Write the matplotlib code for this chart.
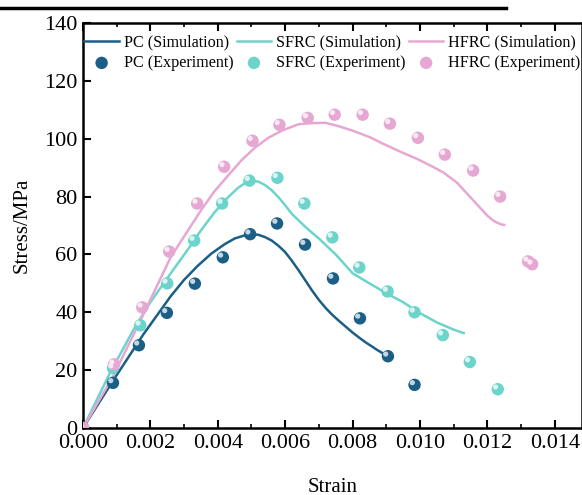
import numpy as np
import matplotlib
matplotlib.use("Agg")
import matplotlib.pyplot as plt
from matplotlib.ticker import MultipleLocator
from matplotlib.transforms import offset_copy
from matplotlib.lines import Line2D

plt.rcParams["font.family"] = ["Liberation Serif", "DejaVu Serif"]
plt.rcParams["mathtext.fontset"] = "stix"

# experiment points
pc_exp_x = [0, 0.00089, 0.00166, 0.00249, 0.00332, 0.00415, 0.00496, 0.00576,
            0.00659, 0.00742, 0.00822, 0.00905, 0.00984]
pc_exp_y = [0, 15.6, 28.6, 39.8, 49.9, 59.0, 67.0, 70.7, 63.4, 51.7, 37.9, 24.8, 14.9]

sfrc_exp_x = [0, 0.00089, 0.0017, 0.0025, 0.0033, 0.00413, 0.00494, 0.00577,
              0.00657, 0.0074, 0.0082, 0.00904, 0.00984, 0.01068, 0.01148, 0.01231]
sfrc_exp_y = [0, 20.7, 35.5, 50.0, 64.8, 77.6, 85.5, 86.5, 77.6, 65.9, 55.5, 47.2,
              40.0, 32.1, 22.8, 13.4]

hfrc_exp_x = [0, 0.00092, 0.00176, 0.00256, 0.00339, 0.00419, 0.00503, 0.00583,
              0.00667, 0.00747, 0.0083, 0.00911, 0.00994, 0.01074, 0.01158,
              0.01238, 0.01321, 0.01333]
hfrc_exp_y = [0, 22.0, 41.7, 61.0, 77.6, 90.3, 99.3, 104.8, 107.2, 108.3, 108.3,
              105.2, 100.3, 94.5, 89.0, 80.0, 57.6, 56.6]

# simulation curves
pc_sim_x = [0, 0.0009, 0.0018, 0.0026, 0.0030, 0.0034, 0.0038, 0.0042, 0.0045,
            0.0048, 0.0050, 0.0052, 0.0054, 0.0056, 0.0058, 0.0060, 0.0062,
            0.0064, 0.0066, 0.0068, 0.0070, 0.0072, 0.0074, 0.0076, 0.0078,
            0.0080, 0.0082, 0.0084, 0.0086, 0.0087, 0.0089]
pc_sim_y = [0, 16.5, 32.5, 45.5, 51.2, 56.0, 60.2, 63.5, 65.5, 66.6, 67.0, 66.8,
            66.0, 64.8, 63.0, 60.8, 57.8, 54.5, 51.0, 47.5, 44.3, 41.5, 39.1,
            37.0, 35.0, 33.0, 31.2, 29.5, 28.0, 27.2, 25.8]

sfrc_sim_x = [0, 0.0008, 0.0015, 0.0020, 0.0026, 0.0031, 0.0035, 0.0039, 0.0043,
              0.0046, 0.0048, 0.0050, 0.0052, 0.0054, 0.0056, 0.0058, 0.0060,
              0.0062, 0.0066, 0.0070, 0.0075, 0.0080, 0.0085, 0.0090, 0.0095,
              0.0100, 0.0105, 0.0110, 0.0113]
sfrc_sim_y = [0, 19.0, 34.0, 43.5, 53.4, 61.5, 68.3, 74.5, 79.7, 83.0, 84.6, 85.4,
              85.2, 84.0, 82.2, 79.8, 77.0, 74.0, 69.5, 65.5, 60.0, 53.5, 50.0,
              46.6, 43.5, 39.7, 36.5, 34.0, 32.8]

hfrc_sim_x = [0, 0.0009, 0.0017, 0.0026, 0.0031, 0.0035, 0.0039, 0.0043, 0.0047,
              0.0051, 0.0055, 0.0059, 0.0064, 0.0068, 0.0072, 0.0076, 0.0080,
              0.0085, 0.0089, 0.0094, 0.0099, 0.0103, 0.0107, 0.0111, 0.0114,
              0.0117, 0.0120, 0.0122, 0.0124, 0.0125]
hfrc_sim_y = [0, 18.0, 37.0, 59.0, 68.0, 75.2, 81.8, 87.2, 92.5, 96.9, 100.3,
              102.8, 105.0, 105.4, 105.5, 104.3, 102.8, 100.6, 98.3, 95.6, 93.1,
              90.8, 88.3, 84.8, 81.0, 77.2, 73.4, 71.5, 70.4, 70.2]

series = [
    ("PC", "#1b5f86", pc_sim_x, pc_sim_y, pc_exp_x, pc_exp_y),
    ("SFRC", "#6cd4cb", sfrc_sim_x, sfrc_sim_y, sfrc_exp_x, sfrc_exp_y),
    ("HFRC", "#e6a8d2", hfrc_sim_x, hfrc_sim_y, hfrc_exp_x, hfrc_exp_y),
]

fig = plt.figure(figsize=(5.82, 4.95), dpi=100)
ax = fig.add_axes([0.1426, 0.1354, 1 - 0.1426, 0.8181])

handles = []
for name, color, sx, sy, ex, ey in series:
    ln, = ax.plot(sx, sy, color=color, lw=1.8, label=name + " (Simulation)",
                  zorder=2, solid_joinstyle="round")
    sc = ax.scatter(ex, ey, s=80, color=color, edgecolors="none",
                    label=name + " (Experiment)", zorder=3)
    hl = offset_copy(ax.transData, fig=fig, x=-1.6, y=1.6, units="points")
    ax.scatter(ex, ey, s=14, color="white", alpha=0.75, edgecolors="none",
               transform=hl, zorder=4)
    handles += [ln, sc]

ax.set_xlim(0, 0.01481)
ax.set_ylim(0, 140)
ax.xaxis.set_major_locator(MultipleLocator(0.002))
ax.xaxis.set_minor_locator(MultipleLocator(0.001))
ax.yaxis.set_major_locator(MultipleLocator(20))
ax.xaxis.set_major_formatter(plt.FuncFormatter(lambda v, p: f"{v:.3f}"))
ax.tick_params(axis="both", which="major", direction="in", length=6, width=1.5,
               labelsize=16, top=True, pad=4)
ax.tick_params(axis="x", which="minor", direction="in", length=3, width=1.2, top=True)
for sp in ax.spines.values():
    sp.set_linewidth(1.8)

ax.set_xlabel("Strain", fontsize=15, labelpad=18)
ax.set_ylabel("Stress/MPa", fontsize=15, labelpad=9)

ax.legend(handles=handles, ncol=3, loc="upper left", bbox_to_anchor=(-0.02, 1.0),
          frameon=False, fontsize=11.6, handlelength=2.15, handletextpad=0.3,
          columnspacing=0.2, labelspacing=0.3, borderaxespad=0.3)

fig.add_artist(Line2D([0, 0.87], [1 - 8 / 495, 1 - 8 / 495], color="black",
                      lw=2.5, transform=fig.transFigure))

fig.savefig("out.png", dpi=100)
